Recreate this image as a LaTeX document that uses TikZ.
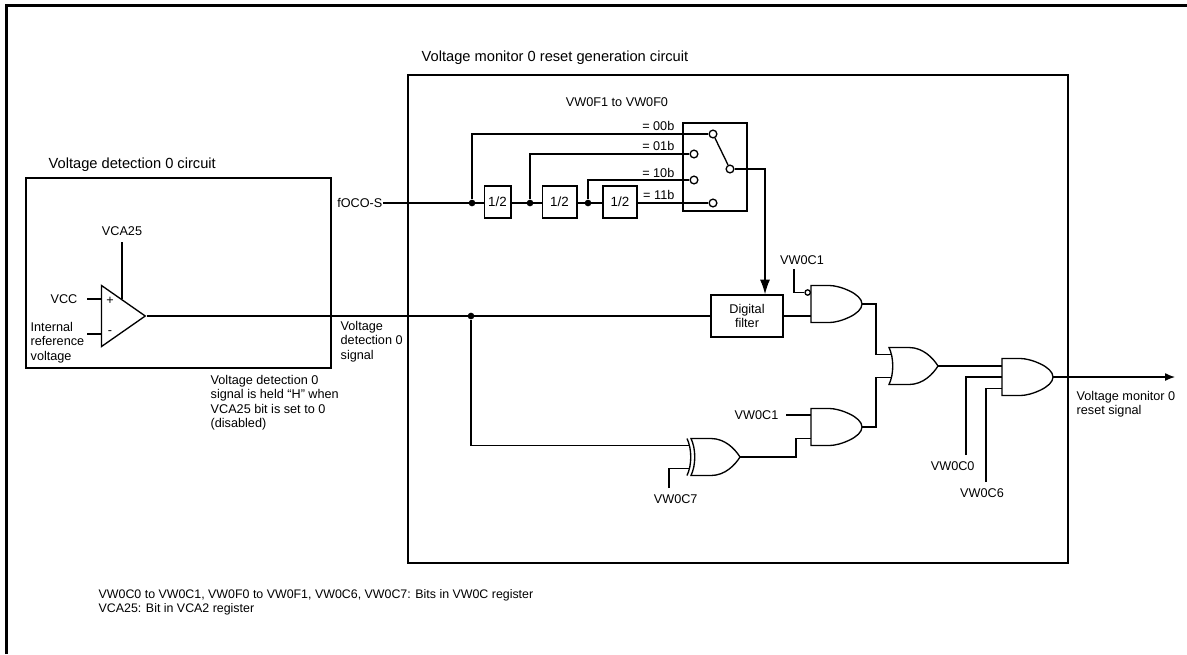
\documentclass[tikz,border=0pt]{standalone}
\usepackage{fontspec}
\setmainfont{Liberation Sans}
\usetikzlibrary{arrows.meta,calc,positioning,shapes.geometric}

\tikzset{
  lbl/.style={font=\fontsize{9.5}{10.6}\selectfont, inner sep=0pt},
  ttl/.style={font=\fontsize{11}{13}\selectfont, inner sep=0pt, anchor=west},
  note/.style={font=\fontsize{9.3}{10.5}\selectfont, inner sep=0pt, anchor=base west},
  blk/.style={draw, inner sep=0pt},
  junc/.style={circle, fill, inner sep=0pt, minimum size=5pt},
  contact/.style={circle, draw, fill=white, inner sep=0pt, minimum size=5.8pt},
  cmp/.style={isosceles triangle, isosceles triangle stretches, draw, inner sep=0pt,
    minimum height=32.8pt, minimum width=45.75pt},
  sig/.style={-{Latex[length=7.5pt,width=6pt]}},
  % gates, output at the pic origin
  andg/.pic={
    \draw (-51,-18.5) -- (-32.5,-18.5) .. controls (-22.3,-18.5) and (0,-10.2) .. (0,0)
      .. controls (0,10.2) and (-22.3,18.5) .. (-32.5,18.5) -- (-51,18.5) -- cycle;
    \coordinate (-in1) at (-51,-11.5);
    \coordinate (-inm) at (-51,0);
    \coordinate (-in2) at (-51,11.5);
    \coordinate (-out) at (0,0);
  },
  org/.pic={
    \draw (-49,-18.5) -- (-29,-18.5) .. controls (-15,-18.5) and (-5,-8) .. (0,0)
      .. controls (-5,8) and (-15,18.5) .. (-29,18.5) -- (-49,18.5)
      .. controls (-44,8) and (-44,-8) .. (-49,-18.5) -- cycle;
    \coordinate (-in1) at (-46.6,-11.5);
    \coordinate (-in2) at (-46.6,11.5);
    \coordinate (-out) at (0,0);
  },
  xorg/.pic={
    \draw (-49,-18.5) -- (-29,-18.5) .. controls (-15,-18.5) and (-5,-8) .. (0,0)
      .. controls (-5,8) and (-15,18.5) .. (-29,18.5) -- (-49,18.5)
      .. controls (-44,8) and (-44,-8) .. (-49,-18.5) -- cycle;
    \draw (-53,-18.5) .. controls (-48,-8) and (-48,8) .. (-53,18.5);
    \coordinate (-in1) at (-50.6,-11.5);
    \coordinate (-in2) at (-50.6,11.5);
    \coordinate (-out) at (0,0);
  },
}

\begin{document}
\begin{tikzpicture}[x=0.75pt, y=-0.75pt, line width=1pt]
        \useasboundingbox (0,0) rectangle (1187,654);
        \draw[line width=2.25pt] (6.5,654) -- (6.5,5.5) -- (1187,5.5);

        % Voltage detection 0 circuit
        \draw (26,178) rectangle (331,368);
        \node[ttl] (detTitle) at (48,165) {Voltage detection 0 circuit};
        \node[cmp, anchor=apex] (cmp) at (147,316) {};
        \node[lbl] (plus) at (110,301) {+};
        \node[lbl] (minus) at (110,333) {-};
        \coordinate (vccIn) at (87,299);
        \coordinate (refIn) at (87,334);
        \node[lbl, anchor=east] (vcc) at (78,299) {VCC};
        \node[lbl, anchor=north west, align=left] (ref) at (30,322) {Internal\\reference\\voltage};
        \draw (vccIn) -- (vccIn -| cmp.west);
        \draw (refIn) -- (refIn -| cmp.west);
        \coordinate (vcaTop) at (122,242);
        \draw (vcaTop) -- ++(0,57);
        \node[lbl, above=4.5pt of vcaTop] (vca) {VCA25};
        \node[lbl, anchor=north west, align=left] (detSig) at (340,321) {Voltage\\detection 0\\signal};
        \node[lbl, anchor=north west, align=left] (held) at (210,375)
          {Voltage detection 0\\signal is held “H” when\\VCA25 bit is set to 0\\(disabled)};

        % Voltage monitor 0 reset generation circuit
        \draw (408,75) rectangle (1068,563);
        \node[ttl] (monTitle) at (421,58) {Voltage monitor 0 reset generation circuit};

        % divider chain
        \node[lbl, anchor=east] (fosc) at (383,203) {fOCO-S};
        \node[blk, font=\fontsize{10}{12}\selectfont, minimum width=20pt, minimum height=24pt] (div1) at (497.5,202) {1/2};
        \node[blk, font=\fontsize{10}{12}\selectfont, minimum width=26pt, minimum height=24pt] (div2) at (559.5,202) {1/2};
        \node[blk, font=\fontsize{10}{12}\selectfont, minimum width=25.5pt, minimum height=24pt] (div3) at (620,202) {1/2};
        \draw (fosc.east) -- (fosc.east -| div1.west);
        \draw (div1.east |- fosc.east) -- (fosc.east -| div2.west);
        \draw (div2.east |- fosc.east) -- (fosc.east -| div3.west);
        \node[junc] (j1) at (472,203) {};
        \node[junc] (j2) at (530,203) {};
        \node[junc] (j3) at (588,203) {};

        % selector switch
        \node[lbl] (selTitle) at (617,102) {VW0F1 to VW0F0};
        \node[blk, minimum width=48pt, minimum height=66pt] (sw) at (715,167) {};
        \node[contact] (c0) at (713,134) {};
        \node[contact] (c1) at (694,154) {};
        \node[contact] (c2) at (694,180) {};
        \node[contact] (c3) at (713,203) {};
        \node[contact] (pole) at (730,169) {};
        \draw (j1) |- (c0);
        \draw (j2) |- (c1);
        \draw (j3) |- (c2);
        \draw (div3.east |- c3) -- (c3);
        \draw (c0) -- (pole);
        \node[lbl, anchor=east] at (675,126) {= 00b};
        \node[lbl, anchor=east] at (675,146) {= 01b};
        \node[lbl, anchor=east] at (675,173) {= 10b};
        \node[lbl, anchor=east] at (675,195) {= 11b};

        % digital filter
        \node[blk, lbl, minimum width=54pt, minimum height=31.5pt, align=center] (filt) at (747,316) {Digital\\filter};
        \coordinate (swOut) at (765,169);
        \draw[-{Latex[length=11pt,width=7.5pt]}] (pole) -- (swOut) -- (swOut |- filt.north);
        \draw (cmp.apex) -- (filt.west);
        \node[junc] (j4) at (471,316) {};

        % gates
        \pic (and1) at (862,304) {andg};
        \pic (and2) at (862,427) {andg};
        \pic (or1) at (938,366) {org};
        \pic (xor1) at (740,457) {xorg};
        \pic (and3) at (1053,377) {andg};
        \node[contact, minimum size=4pt, anchor=east] (and1inv) at (and1-in1) {};

        \draw (filt.east) -- (filt.east -| and1-in2);
        \coordinate (vw1a) at (794,269);
        \node[lbl, above=3pt of vw1a, xshift=6pt] (vw1aLbl) {VW0C1};
        \draw (vw1a) |- (and1inv.west);
        \draw (and1-out) -- ++(14,0) |- (or1-in1);
        \draw (and2-out) -- ++(14,0) |- (or1-in2);
        \node[lbl, anchor=east] (vw1b) at (779,415) {VW0C1};
        \draw ($(vw1b.east)+(7,0)$) -- (vw1b.east -| and2-in1);
        \draw (j4) |- (xor1-in1);
        \coordinate (vw7) at (669,488);
        \node[lbl, below=4.5pt of vw7, xshift=5pt] (vw7Lbl) {VW0C7};
        \draw (vw7) |- (xor1-in2);
        \draw (xor1-out) -- ++(56,0) |- (and2-in2);
        \draw (or1-out) -- (or1-out -| and3-in1);
        \coordinate (vw0) at (966,455);
        \coordinate (vw6) at (986,482);
        \node[lbl, below=4.5pt of vw0, xshift=-10pt] (vw0Lbl) {VW0C0};
        \node[lbl, below=4.5pt of vw6, xshift=-3pt] (vw6Lbl) {VW0C6};
        \draw (vw0) |- (and3-inm);
        \draw (vw6) |- (and3-in2);
        \coordinate (rstOut) at (1175,377);
        \draw[sig] (and3-out) -- (rstOut);
        \node[lbl, anchor=north west, align=left] (rstLbl) at (1076,391) {Voltage monitor 0\\reset signal};

        % register notes
        \node[note] (regNote1) at (98,598.5)
          {VW0C0 to VW0C1, VW0F0 to VW0F1, VW0C6, VW0C7: Bits in VW0C register};
        \node[note] (regNote2) at (98,612.5) {VCA25: Bit in VCA2 register};
\end{tikzpicture}
\end{document}
